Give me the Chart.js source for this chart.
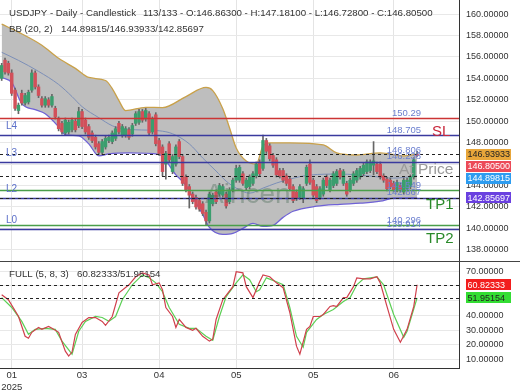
<!DOCTYPE html>
<html>
<head>
<meta charset="utf-8">
<script src="https://cdn.jsdelivr.net/npm/chart.js@4.4.1/dist/chart.umd.min.js"></script>
<style>
  html, body { margin: 0; padding: 0; background: #fff; }
  #wrap { width: 520px; height: 390px; }
</style>
</head>
<body>
<div id="wrap"><canvas id="chart" width="520" height="390"></canvas></div>
<script>
// USDJPY daily candles (index 0 = first visible bar)
const opens = [154.0,155.7,155.4,154.5,152.9,151.0,152.6,151.7,151.8,152.9,
  154.5,153.2,152.1,151.5,152.0,151.5,151.2,150.2,149.8,148.9,
  149.0,149.2,150.0,149.6,150.9,150.1,149.5,148.9,148.5,147.9,
  147.1,147.6,148.2,148.1,148.4,149.8,148.7,148.7,149.2,148.8,
  149.8,149.9,150.9,150.2,150.7,149.0,150.6,148.2,147.6,146.0,
  147.9,145.3,146.0,148.1,146.7,144.8,143.9,143.2,142.9,142.6,
  142.3,141.5,140.7,142.3,143.4,143.2,143.1,143.2,142.5,143.6,
  144.5,144.5,145.1,143.8,143.9,144.2,144.9,146.2,145.6,148.2,
  147.7,146.8,146.4,145.4,145.4,144.9,144.6,143.9,143.4,142.9,
  142.8,144.2,146.0,144.5,143.9,142.9,143.2,144.8,143.6,144.0,
  144.2,145.4,144.2,144.2,143.6,144.2,144.5,144.8,145.1,145.3,
  145.4,145.9,146.0,146.0,144.9,144.6,144.5,144.2,143.6,144.0,
  143.4,143.7,143.9,144.8,146.863];
const highs = [155.4,155.9,155.6,154.8,153.1,151.7,152.9,152.6,152.9,154.8,
  154.7,153.4,152.3,152.3,152.2,152.5,151.4,150.4,150.0,150.3,
  150.1,150.3,150.2,151.3,151.1,150.3,149.7,149.1,148.7,148.1,
  148.3,148.6,148.7,149.1,149.5,150.0,149.7,149.5,149.4,149.8,
  150.9,151.1,151.1,151.2,150.9,150.4,150.8,148.4,147.8,147.2,
  148.1,146.9,147.8,148.3,146.9,145.0,144.1,143.4,143.1,142.8,
  142.5,141.7,143.4,143.3,143.6,144.2,144.1,143.4,143.8,144.7,
  145.9,145.9,145.3,144.7,145.0,145.3,146.2,146.4,148.7,148.4,
  147.9,147.0,146.6,145.6,145.6,145.1,144.8,144.1,143.6,144.1,
  143.9,145.9,146.4,144.7,144.1,143.9,144.7,145.0,144.7,145.3,
  145.5,145.6,145.5,144.4,144.7,145.3,145.6,145.8,146.1,146.4,
  146.4,148.1,146.2,146.2,145.1,144.8,144.7,144.4,144.5,144.2,
  144.7,144.7,145.0,146.6,147.181];
const lows = [153.8,154.4,154.3,152.4,151.0,150.7,151.5,151.5,151.6,152.7,
  153.0,152.2,151.3,151.3,151.3,151.3,150.2,149.1,148.8,148.7,
  148.8,149.0,149.0,149.4,149.3,148.8,148.3,148.0,147.4,146.9,
  146.9,147.4,148.0,147.9,148.2,148.8,148.5,148.5,148.3,148.6,
  149.6,149.7,149.9,150.0,148.7,148.8,147.7,146.8,144.9,144.6,
  146.2,145.1,145.8,146.5,144.0,143.4,141.9,142.3,141.8,141.6,
  141.2,140.3,140.5,142.1,142.3,143.0,142.9,141.9,142.3,143.4,
  144.3,144.3,144.0,143.6,143.7,144.0,144.7,144.9,145.4,147.0,
  146.3,145.7,144.8,144.7,144.3,144.0,143.5,142.4,142.6,142.7,
  142.4,144.0,144.1,142.9,142.4,142.7,143.0,143.8,143.4,143.8,
  144.0,144.6,144.0,143.0,143.4,144.0,144.3,144.6,144.9,145.1,
  145.2,145.0,145.1,144.6,144.3,143.5,143.7,143.4,143.4,143.4,
  143.2,143.5,143.7,144.6,146.728];
const closes = [155.2,154.6,154.5,152.6,151.2,151.5,151.7,152.4,152.7,154.5,
  153.2,152.4,151.5,152.1,151.5,152.3,150.4,149.3,149.0,150.1,
  149.9,150.1,149.2,150.9,149.5,149.0,148.5,148.2,147.6,147.1,
  148.1,148.4,148.5,148.9,149.3,149.0,149.5,149.3,148.5,149.6,
  150.7,150.9,150.1,151.0,148.9,150.2,147.9,147.0,145.3,147.0,
  146.4,146.7,147.6,146.7,144.2,143.6,143.1,142.5,142.0,141.8,
  141.4,140.7,143.2,143.1,142.5,144.0,143.9,142.1,143.6,144.5,
  145.6,145.7,144.2,144.5,144.8,145.1,146.0,145.1,148.2,147.2,
  146.5,145.9,145.0,144.9,144.5,144.2,143.7,142.6,142.8,143.9,
  143.7,145.7,144.3,143.1,142.6,143.7,144.5,144.0,144.5,145.1,
  145.3,144.8,145.3,143.2,144.5,145.1,145.4,145.6,145.9,146.2,
  146.2,146.3,145.3,144.8,144.5,143.7,143.9,143.6,144.3,143.6,
  144.5,144.5,144.8,146.4,146.805];

// Bollinger Bands (20, 2), sampled along the curves
const upperIdx = [0,5,12,17,22,26,31,33,35,37,43,48,55,61,63,66,68,70,73,76,78,80,86,96,100,106,113,120,124];
const upperVal = [159.06,158.31,157.09,155.87,154.93,154.08,153.80,153.05,151.92,150.99,
  151.3,151.27,152.30,153.15,152.86,151.17,149.39,147.51,146.29,146.01,
  147.70,147.98,147.98,147.79,147.04,146.85,147.04,146.76,146.93933];
const midIdx = [0,5,11,17,21,24,29,33,36,40,47,51,56,60,64,67,70,74,78,82,86,92,101,110,117,124];
const midVal = [156.43,155.68,154.65,153.43,152.30,151.36,150.33,149.58,149.30,149.20,
  149.11,148.83,147.89,146.57,145.35,144.41,143.76,143.29,143.76,144.23,
  144.60,144.98,145.07,144.88,144.69,144.89815];
const lowerIdx = [0,3,6,10,13,17,19,23,26,29,32,38,47,52,55,57,60,62,66,69,72,75,78,81,84,87,94,101,107,113,117,124];
const lowerVal = [154.08,153.62,151.64,151.08,150.70,149.48,148.73,148.64,147.89,146.76,
  146.95,147.04,146.9,145.0,144.0,142.91,141.31,140.09,139.44,139.53,
  140.0,140.47,140.19,140.28,141.03,141.60,142.07,142.25,142.35,142.54,
  142.82,142.85697];

// Stochastic FULL (5, 8, 3)
const kIdx = [0,2,5,7,8,9,11,12,14,15,17,19,20,21,22,24,26,28,30,31,33,35,38,40,42,44,45,47,48,49,
  51,52,53,55,57,58,60,62,63,64,66,69,70,72,73,75,77,78,80,82,84,86,88,89,91,92,93,95,96,98,
  99,100,102,103,105,106,108,110,112,113,115,117,119,121,123,124];
const kVal = [54.1,50.7,39.5,25.9,24.6,28.6,31.9,30.6,32.6,31.3,28.6,15.8,12.5,15.2,27.2,35.3,38.6,38.6,36.0,33.3,
  39.3,55.4,60.8,66.2,68.9,67.5,60.8,62.1,57.4,45.4,39.3,31.9,37.3,31.9,29.9,31.3,25.9,22.6,23.9,37.3,
  50.7,59.5,69.6,68.9,59.5,52.1,62.8,67.5,66.2,62.1,58.8,42.0,19.2,13.8,30.6,32.6,39.3,39.3,40.7,46.1,
  46.7,46.1,52.1,52.1,59.5,65.5,64.8,64.8,66.2,62.1,46.1,30.6,21.9,30.6,46.1,60.82333];
const dIdx = [0,3,6,8,10,13,16,18,21,23,25,28,30,32,34,36,39,42,44,46,48,50,53,56,58,61,63,65,67,70,
  72,74,76,77,79,82,84,86,88,90,91,94,96,99,102,104,106,108,112,114,117,120,121,124];
const dVal = [52.1,45.4,36.0,27.2,30.6,31.3,30.6,22.6,13.8,29.3,36.0,39.3,38.6,36.0,39.3,50.7,60.8,67.5,65.5,62.1,
  56.1,45.4,34.0,31.3,31.3,25.9,23.2,39.3,52.8,62.1,67.5,64.2,56.1,57.4,65.5,62.8,60.8,45.4,25.9,18.5,
  28.6,37.3,40.7,44.0,49.4,52.1,60.8,64.8,66.2,60.8,40.7,25.2,29.3,51.95154];

// axes
const monthTickIdx = [3, 24, 47, 70, 93, 117];
const monthTickLabels = ['01', '03', '04', '05', '05', '06'];
const yearLabel = '2025';
const priceTicks = [138, 140, 142, 144, 146, 148, 150, 152, 154, 156, 158, 160];
const stochTicks = [10, 20, 30, 40, 50, 60, 70];

// trade levels
const levelValues = [150.29, 148.705, 146.238, 143.549, 142.867, 140.296, 139.914];
const levelTags = ['150.29', '148.705', '146.806', '146.238', '143.549', '142.867', '140.296', '139.914'];
const leftTags = ['L4', 'L3', 'L2', 'L0'];
const leftTagValues = [148.705, 146.238, 142.867, 139.914];

// current readings
const bbNow = [146.93933, 144.89815, 142.85697];
const stochNow = [60.82333, 51.95154];
const lastBar = opens.length - 1;

// styles
const levelColors = ['#cc3434', '#3a3a9e', '#3a3a9e', '#4a9e4a', '#3a3a9e', '#4a9e4a', '#3a3a9e'];
const UP = '#3a9e6e', DOWN = '#d2505a';
const FONT = 'Arial, "Liberation Sans", sans-serif';

const pts = (idx, val) => idx.map((x, k) => ({ x: x, y: val[k] }));
const bars = (a, b) => opens.map((o, i) => ({ x: i, y: [a[i], b[i]] }));
const candleColors = opens.map((o, i) => closes[i] >= o ? UP : DOWN);

function hline(ctx, x1, x2, y) {
    ctx.beginPath();
    ctx.moveTo(x1, y);
    ctx.lineTo(x2, y);
    ctx.stroke();
}

function tagBox(ctx, text, y, bg, fg) {
    ctx.fillStyle = bg;
    ctx.fillRect(466, Math.round(y - 5.5), 45, 11);
    ctx.fillStyle = fg;
    ctx.textAlign = 'left';
    ctx.textBaseline = 'middle';
    ctx.fillText(text, 467.5, y + 0.5);
}

const overlay = {
    id: 'overlay',
    afterDatasetsDraw(chart) {
        const { ctx, chartArea: a, scales: { y, y2 } } = chart;
        const L = a.left, R = a.right;
        const py = v => Math.round(y.getPixelForValue(v)) + 0.5;
        ctx.save();
        ctx.beginPath();
        ctx.rect(L, a.top, R - L, a.bottom - a.top);
        ctx.clip();

        // watermark
        ctx.font = '28px ' + FONT;
        ctx.fillStyle = 'rgba(70,105,85,0.38)';
        ctx.textAlign = 'left';
        ctx.textBaseline = 'alphabetic';
        ctx.fillText('Aincen', 205, 203);

        // level lines
        ctx.lineWidth = 1.4;
        levelValues.forEach((v, k) => {
            ctx.strokeStyle = levelColors[k];
            hline(ctx, L, R, py(v));
        });

        // dashed lines at current indicator values
        ctx.setLineDash([3, 3]);
        ctx.strokeStyle = '#222';
        ctx.lineWidth = 1;
        bbNow.forEach(v => hline(ctx, L, R, py(v)));
        stochNow.forEach(v => hline(ctx, L, R, Math.round(y2.getPixelForValue(v)) + 0.5));
        ctx.setLineDash([]);

        // level tags
        ctx.font = '9.5px ' + FONT;
        ctx.fillStyle = '#6b7fcf';
        ctx.textAlign = 'right';
        levelTags.forEach(t => ctx.fillText(t, 421, y.getPixelForValue(parseFloat(t)) - 2.5));
        ctx.font = '10px ' + FONT;
        ctx.fillStyle = '#5b6fc9';
        ctx.textAlign = 'left';
        leftTags.forEach((t, k) => ctx.fillText(t, 6, y.getPixelForValue(leftTagValues[k]) - 6));

        // SL / TP / At Price
        ctx.font = '15px ' + FONT;
        ctx.fillStyle = '#c8283c';
        ctx.fillText('SL', 432, y.getPixelForValue(148.705) + 1);
        ctx.fillStyle = '#2a8a2a';
        ctx.fillText('TP1', 426, y.getPixelForValue(142.867) + 11.5);
        ctx.fillText('TP2', 426, y.getPixelForValue(139.914) + 13.5);
        ctx.font = '15.5px ' + FONT;
        ctx.fillStyle = '#9a9a9a';
        ctx.fillText('At Price', 399, y.getPixelForValue(bbNow[1]) - 2);
        ctx.restore();
    },
    afterDraw(chart) {
        const { ctx, scales: { y, y2 } } = chart;
        ctx.save();
        // panel separator
        ctx.strokeStyle = '#444';
        ctx.lineWidth = 1;
        hline(ctx, 0, chart.width, Math.round(y2.top) + 0.5);

        // value boxes on the price axis
        ctx.font = '9px ' + FONT;
        let yo = y.getPixelForValue(bbNow[0]);
        tagBox(ctx, bbNow[0].toFixed(5), yo, '#e8a63a', '#222');
        let yr = Math.max(y.getPixelForValue(closes[lastBar]), yo + 12);
        tagBox(ctx, closes[lastBar].toFixed(5), yr, '#ec4a58', '#fff');
        let yb = Math.max(y.getPixelForValue(bbNow[1]), yr + 12);
        tagBox(ctx, bbNow[1].toFixed(5), yb, '#2d9cf0', '#fff');
        tagBox(ctx, bbNow[2].toFixed(5), y.getPixelForValue(bbNow[2]), '#6a40e0', '#fff');
        tagBox(ctx, stochNow[0].toFixed(5), y2.getPixelForValue(stochNow[0]), '#f21e1e', '#fff');
        tagBox(ctx, stochNow[1].toFixed(5), y2.getPixelForValue(stochNow[1]), '#33dd33', '#222');

        // headers
        ctx.font = '9.7px ' + FONT;
        ctx.fillStyle = '#333';
        ctx.textAlign = 'left';
        ctx.textBaseline = 'middle';
        ctx.fillText('USDJPY - Daily - Candlestick', 9, 13);
        ctx.fillText((lastBar - 11) + '/133 - O:' + opens[lastBar].toFixed(5) + ' - H:' + highs[lastBar].toFixed(5) +
            ' - L:' + lows[lastBar].toFixed(5) + ' - C:' + closes[lastBar].toFixed(5), 143, 13);
        ctx.fillText('BB (20, 2)', 9, 29);
        ctx.fillText(bbNow[1].toFixed(5) + '/' + bbNow[0].toFixed(5) + '/' + bbNow[2].toFixed(5), 61, 29);
        ctx.fillText('FULL (5, 8, 3)', 9, 274);
        ctx.fillText(stochNow[0].toFixed(5) + '/' + stochNow[1].toFixed(5), 77, 274);
        ctx.restore();
    }
};

const noPad = s => { s.paddingTop = 0; s.paddingBottom = 0; s.paddingLeft = 0; s.paddingRight = 0; };

function drawChart() {
    const ctx = document.getElementById('chart').getContext('2d');
    new Chart(ctx, {
        type: 'bar',
        data: {
            datasets: [
                { type: 'line', data: pts(upperIdx, upperVal), borderColor: '#c9a14a', borderWidth: 1.3,
                  backgroundColor: '#bebebe', fill: { target: 2 }, pointRadius: 0,
                  cubicInterpolationMode: 'monotone', yAxisID: 'y', order: 7 },
                { type: 'line', data: pts(midIdx, midVal), borderColor: '#7c8fb8', borderWidth: 1,
                  pointRadius: 0, cubicInterpolationMode: 'monotone', yAxisID: 'y', order: 5 },
                { type: 'line', data: pts(lowerIdx, lowerVal), borderColor: '#6f62d6', borderWidth: 1.3,
                  pointRadius: 0, cubicInterpolationMode: 'monotone', yAxisID: 'y', order: 6 },
                { data: bars(lows, highs), backgroundColor: '#666', barThickness: 1,
                  grouped: false, yAxisID: 'y', order: 2 },
                { data: bars(opens, closes), backgroundColor: candleColors, barThickness: 2.8,
                  minBarLength: 1, grouped: false, yAxisID: 'y', order: 1 },
                { type: 'line', data: pts(dIdx, dVal), borderColor: '#5ccf55', borderWidth: 1.2,
                  pointRadius: 0, yAxisID: 'y2', order: 2 },
                { type: 'line', data: pts(kIdx, kVal), borderColor: '#d0404c', borderWidth: 1.2,
                  pointRadius: 0, yAxisID: 'y2', order: 1 }
            ]
        },
        options: {
            responsive: false,
            animation: false,
            events: [],
            layout: { padding: 0 },
            plugins: { legend: { display: false }, tooltip: { enabled: false } },
            scales: {
                x: {
                    type: 'linear', min: -0.5, max: 136.5, offset: false,
                    afterBuildTicks: s => { s.ticks = monthTickIdx.map(v => ({ value: v })); },
                    afterFit: s => { s.height = 22; noPad(s); },
                    ticks: {
                        autoSkip: false, maxRotation: 0, padding: 2, color: '#333',
                        font: { family: FONT, size: 9.5 },
                        callback: (v, i) => i === 0 ? [monthTickLabels[i], yearLabel] : monthTickLabels[i]
                    },
                    grid: { color: '#e4e4e4', drawTicks: false, offset: false },
                    border: { color: '#333' }
                },
                y: {
                    type: 'linear', position: 'right', stack: 'panes', stackWeight: 261,
                    min: 136.96, max: 161.31,
                    afterBuildTicks: s => { s.ticks = priceTicks.map(v => ({ value: v })); },
                    afterFit: s => { s.width = 61; noPad(s); },
                    ticks: { autoSkip: false, padding: 7, color: '#333', font: { family: FONT, size: 9 },
                             callback: v => v.toFixed(5) },
                    grid: { color: '#e8e8e8', drawTicks: false },
                    border: { color: '#333' }
                },
                y2: {
                    type: 'linear', position: 'right', stack: 'panes', stackWeight: 107,
                    min: 4.4, max: 76.9,
                    afterBuildTicks: s => { s.ticks = stochTicks.map(v => ({ value: v })); },
                    afterFit: s => { s.width = 61; noPad(s); },
                    ticks: { autoSkip: false, padding: 7, color: '#333', font: { family: FONT, size: 9 },
                             callback: v => v.toFixed(5) },
                    grid: { color: '#e8e8e8', drawTicks: false },
                    border: { color: '#333' }
                }
            }
        },
        plugins: [overlay]
    });
}

drawChart();
</script>
</body>
</html>
